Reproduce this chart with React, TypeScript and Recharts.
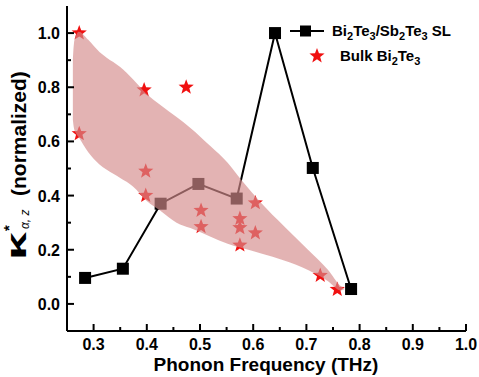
import { ComposedChart, Line, Scatter, Area, XAxis, YAxis } from "recharts";

// SL series (black squares)
const slFreq = [0.284, 0.355, 0.426, 0.497, 0.569, 0.641, 0.712, 0.784];
const slKappa = [0.096, 0.13, 0.37, 0.443, 0.389, 1.0, 0.502, 0.055];

// bulk Bi2Te3 (red stars)
const bulkFreq = [0.273, 0.273, 0.395, 0.474, 0.398, 0.398, 0.502, 0.502, 0.575, 0.575, 0.575, 0.604, 0.604, 0.726, 0.758];
const bulkKappa = [1.0, 0.628, 0.79, 0.8, 0.49, 0.4, 0.345, 0.285, 0.315, 0.281, 0.217, 0.373, 0.262, 0.105, 0.053];

// shaded band (hand traced)
const bandFreq = [0.261, 0.263, 0.267, 0.272, 0.29, 0.311, 0.324, 0.35, 0.374, 0.4, 0.425, 0.456, 0.482, 0.52, 0.552, 0.577, 0.615, 0.658, 0.703, 0.74, 0.765, 0.772];
const bandLow = [0.68, 0.65, 0.63, 0.615, 0.56, 0.515, 0.496, 0.465, 0.434, 0.38, 0.345, 0.3, 0.28, 0.248, 0.222, 0.207, 0.186, 0.16, 0.125, 0.085, 0.05, 0.055];
const bandHigh = [0.9, 0.96, 0.99, 1.005, 0.975, 0.93, 0.91, 0.875, 0.83, 0.775, 0.735, 0.69, 0.65, 0.582, 0.521, 0.459, 0.373, 0.287, 0.2, 0.127, 0.065, 0.055];

const xMajor = [0.3, 0.4, 0.5, 0.6, 0.7, 0.8, 0.9, 1.0];
const xMinor = [0.35, 0.45, 0.55, 0.65, 0.75, 0.85, 0.95];
const yMajor = [0.0, 0.2, 0.4, 0.6, 0.8, 1.0];
const yMinor = [0.1, 0.3, 0.5, 0.7, 0.9];

const slData = slFreq.map((x, i) => ({ x, y: slKappa[i] }));
const bulkData = bulkFreq.map((x, i) => ({ x, y: bulkKappa[i] }));
const bandData = bandFreq.map((x, i) => ({ x, range: [bandLow[i], bandHigh[i]] }));

const xTicks = [...xMajor, ...xMinor].sort((a, b) => a - b);
const yTicks = [...yMajor, ...yMinor].sort((a, b) => a - b);

const FONT = "'Liberation Sans', Arial, sans-serif";
const isMajor = (v: number, list: number[]) => list.some((m) => Math.abs(m - v) < 1e-6);

function starPath(cx: number, cy: number, r: number) {
  const pts: string[] = [];
  for (let i = 0; i < 10; i++) {
    const rad = i % 2 === 0 ? r : r * 0.42;
    const a = -Math.PI / 2 + (i * Math.PI) / 5;
    pts.push(`${cx + rad * Math.cos(a)},${cy + rad * Math.sin(a)}`);
  }
  return `M${pts.join("L")}Z`;
}

const Star = (p: any) => <path d={starPath(p.cx, p.cy, 8)} fill="#f01010" />;

const Square = (p: any) => (
  <rect key={p.index} x={p.cx - 6} y={p.cy - 6} width={12} height={12} fill="#000" />
);

const BottomTick = (p: any) => {
  const v = p.payload.value;
  const major = isMajor(v, xMajor);
  return (
    <g>
      <line x1={p.x} x2={p.x} y1={p.y} y2={p.y - (major ? 7 : 4)} stroke="#000" strokeWidth={2} />
      {major && (
        <text x={p.x} y={p.y + 19} textAnchor="middle" fontFamily={FONT} fontWeight="bold" fontSize={16} fill="#000">
          {v.toFixed(1)}
        </text>
      )}
    </g>
  );
};

const TopTick = (p: any) => {
  const major = isMajor(p.payload.value, xMajor);
  return <line x1={p.x} x2={p.x} y1={p.y} y2={p.y + (major ? 7 : 4)} stroke="#000" strokeWidth={2} />;
};

const LeftTick = (p: any) => {
  const v = p.payload.value;
  const major = isMajor(v, yMajor);
  return (
    <g>
      <line x1={p.x} x2={p.x + (major ? 7 : 4)} y1={p.y} y2={p.y} stroke="#000" strokeWidth={2} />
      {major && (
        <text x={p.x - 7} y={p.y + 6} textAnchor="end" fontFamily={FONT} fontWeight="bold" fontSize={16} fill="#000">
          {v.toFixed(1)}
        </text>
      )}
    </g>
  );
};

const RightTick = (p: any) => {
  const major = isMajor(p.payload.value, yMajor);
  return <line x1={p.x} x2={p.x - (major ? 7 : 4)} y1={p.y} y2={p.y} stroke="#000" strokeWidth={2} />;
};

// rotated y title, drawn from the bottom (260) upwards, baseline at x=26
const YTitle = () => (
  <g transform="translate(26, 260) rotate(-90)" fontFamily={FONT} fontWeight="bold" fill="#000">
    <text x={0} y={0} fontSize={28} textLength={28} lengthAdjust="spacingAndGlyphs">κ</text>
    <text x={29} y={-12} fontSize={15}>*</text>
    <text x={31} y={3} fontSize={12} fontStyle="italic" fontWeight="normal">α, z</text>
    <text x={64} y={0} fontSize={21}>(normalized)</text>
  </g>
);

const LegendBox = () => (
  <g fontFamily={FONT} fontWeight="bold" fill="#000">
    <line x1={290} x2={324} y1={31} y2={31} stroke="#000" strokeWidth={2} />
    <rect x={300} y={25.5} width={11} height={11} fill="#000" />
    <text x={332} y={36} fontSize={15}>
      Bi<tspan fontSize={11} dy={4}>2</tspan>
      <tspan dy={-4}>Te</tspan>
      <tspan fontSize={11} dy={4}>3</tspan>
      <tspan dy={-4}>/Sb</tspan>
      <tspan fontSize={11} dy={4}>2</tspan>
      <tspan dy={-4}>Te</tspan>
      <tspan fontSize={11} dy={4}>3</tspan>
      <tspan dy={-4}> SL</tspan>
    </text>
    <path d={starPath(317, 56, 8)} fill="#f01010" />
    <text x={340} y={61} fontSize={15}>
      Bulk Bi<tspan fontSize={11} dy={4}>2</tspan>
      <tspan dy={-4}>Te</tspan>
      <tspan fontSize={11} dy={4}>3</tspan>
    </text>
  </g>
);

export default function App() {
  return (
    <div style={{ position: "absolute", left: 0, top: 0, width: 479, height: 377, background: "#fff" }}>
      <ComposedChart width={479} height={377} margin={{ top: 6, right: 13, bottom: 0, left: 0 }}>
        <XAxis
          xAxisId="b"
          type="number"
          dataKey="x"
          domain={[0.25, 1.0]}
          ticks={xTicks}
          allowDataOverflow
          height={46}
          tickLine={false}
          tickSize={0}
          tickMargin={0}
          tick={<BottomTick />}
          axisLine={{ stroke: "#000", strokeWidth: 2 }}
          interval={0}
        />
        <XAxis
          xAxisId="t"
          orientation="top"
          type="number"
          dataKey="x"
          domain={[0.25, 1.0]}
          ticks={xTicks}
          allowDataOverflow
          height={0}
          tickLine={false}
          tickSize={0}
          tickMargin={0}
          tick={<TopTick />}
          axisLine={{ stroke: "#000", strokeWidth: 2 }}
          interval={0}
        />
        <YAxis
          yAxisId="l"
          type="number"
          domain={[-0.1, 1.1]}
          ticks={yTicks}
          allowDataOverflow
          width={67}
          tickLine={false}
          tickSize={0}
          tickMargin={0}
          tick={<LeftTick />}
          axisLine={{ stroke: "#000", strokeWidth: 2 }}
          interval={0}
        />
        <YAxis
          yAxisId="r"
          orientation="right"
          type="number"
          domain={[-0.1, 1.1]}
          ticks={yTicks}
          allowDataOverflow
          width={0}
          tickLine={false}
          tickSize={0}
          tickMargin={0}
          tick={<RightTick />}
          axisLine={{ stroke: "#000", strokeWidth: 2 }}
          interval={0}
        />
        <Line
          xAxisId="b"
          yAxisId="l"
          data={slData}
          dataKey="y"
          type="linear"
          stroke="#000"
          strokeWidth={2}
          dot={Square}
          activeDot={false}
          isAnimationActive={false}
        />
        <Scatter
          xAxisId="b"
          yAxisId="l"
          data={bulkData}
          dataKey="y"
          shape={Star}
          isAnimationActive={false}
        />
        <Area
          xAxisId="b"
          yAxisId="l"
          data={bandData}
          dataKey="range"
          type="monotone"
          stroke="none"
          fill="rgb(212,140,140)"
          fillOpacity={0.66}
          activeDot={false}
          isAnimationActive={false}
          {...({ zIndex: 700 } as any)}
        />
        <YTitle />
        <LegendBox />
        <text x={266} y={371} textAnchor="middle" fontFamily={FONT} fontWeight="bold" fontSize={19} fill="#000">
          Phonon Frequency (THz)
        </text>
      </ComposedChart>
    </div>
  );
}
